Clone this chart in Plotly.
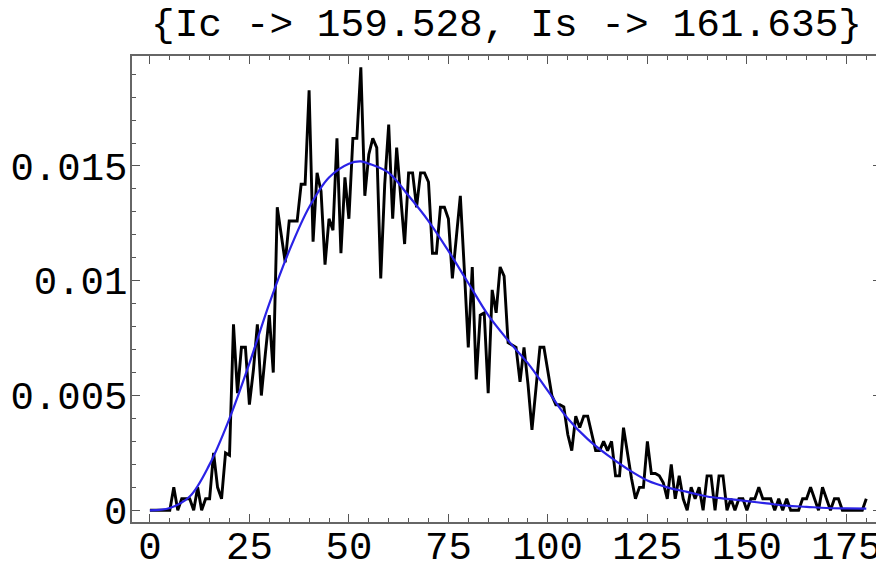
import plotly.graph_objects as go

# Histogram (black jagged line): one value per integer x = 0..180
hist_x = list(range(0, 181))
hist_y = [
    0, 0, 0, 0, 0, 0, 0.0010, 0, 0.0005, 0.0005,
    0.0005, 0, 0.0010, 0, 0.0005, 0.0005, 0.0025, 0.0010, 0.0005, 0.0025,
    0.0024, 0.0081, 0.0051, 0.0071, 0.0071, 0.0046, 0.0061, 0.0081, 0.0050, 0.0068,
    0.0085, 0.0060, 0.0132, 0.0120, 0.0108, 0.0126, 0.0126, 0.0126, 0.0142, 0.0142,
    0.0183, 0.0117, 0.0147, 0.0139, 0.0107, 0.0127, 0.0122, 0.0162, 0.0112, 0.0145,
    0.0127, 0.0162, 0.0162, 0.0193, 0.0137, 0.0155, 0.0162, 0.0158, 0.0101, 0.0142,
    0.0168, 0.0127, 0.0158, 0.0137, 0.0116, 0.0147, 0.0147, 0.0132, 0.0147, 0.0147,
    0.0143, 0.0112, 0.0112, 0.0132, 0.0132, 0.0127, 0.0101, 0.0119, 0.0137, 0.0105,
    0.0071, 0.0106, 0.0057, 0.0085, 0.0086, 0.0051, 0.0096, 0.0086, 0.0106, 0.0102,
    0.0073, 0.0072, 0.0071, 0.0056, 0.0071, 0.0055, 0.0035, 0.0053, 0.0071, 0.0071,
    0.0061, 0.0050, 0.0046, 0.0046, 0.0045, 0.0033, 0.0026, 0.0041, 0.0036, 0.0041,
    0.0041, 0.0033, 0.0026, 0.0026, 0.0030, 0.0026, 0.0030, 0.0015, 0.0015, 0.0036,
    0.0024, 0.0014, 0.0005, 0.0010, 0.0010, 0.0030, 0.0016, 0.0016, 0.0015, 0.0012,
    0.0005, 0.0020, 0.0005, 0.0015, 0.0005, 0, 0.0010, 0.0005, 0.0010, 0,
    0.0015, 0.0015, 0, 0.0015, 0.0015, 0, 0.0005, 0, 0.0005, 0.0005,
    0, 0.0005, 0.0005, 0.0010, 0.0005, 0.0005, 0.0005, 0, 0.0005, 0,
    0.0005, 0, 0, 0, 0.0005, 0.0005, 0.0010, 0.0005, 0, 0.0010,
    0.0005, 0, 0.0005, 0.0005, 0, 0, 0, 0, 0, 0,
    0.0005,
]

# Fitted curve (blue), read at sample points
fit_x = [0, 5, 10, 15, 20, 25, 30, 35, 40, 45, 50, 53, 55, 60, 65, 70, 75, 80, 85, 90,
         95, 100, 105, 110, 115, 120, 125, 130, 135, 140, 145, 150, 155, 160, 165, 170, 175, 180]
fit_y = [0, 0.0001, 0.0006, 0.0020, 0.0040, 0.0064, 0.0090, 0.0113, 0.0132, 0.0145, 0.0151,
         0.0152, 0.0151, 0.0147, 0.0137, 0.0126, 0.0113, 0.0099, 0.0085, 0.0074,
         0.0064, 0.0052, 0.0040, 0.0031, 0.0024, 0.0018, 0.0013, 0.0010, 0.0008, 0.0006,
         0.0005, 0.0004, 0.0003, 0.0002, 0.00015, 0.0001, 0.00008, 0.00007]

x_tickvals = [0, 25, 50, 75, 100, 125, 150, 175]
x_ticktext = ["0", "25", "50", "75", "100", "125", "150", "175"]
y_tickvals = [0, 0.005, 0.01, 0.015]
y_ticktext = ["0", "0.005", "0.01", "0.015"]
title_text = "{Ic -> 159.528, Is -> 161.635}"

FONT = "Liberation Mono, DejaVu Sans Mono, monospace"

fig = go.Figure()
fig.add_trace(go.Scatter(x=hist_x, y=hist_y, mode="lines",
                         line=dict(color="black", width=2.9), showlegend=False))
fig.add_trace(go.Scatter(x=fit_x, y=fit_y, mode="lines",
                         line=dict(color="#2a22e6", width=2.2, shape="spline"),
                         showlegend=False))

axis_common = dict(
    automargin=False,
    showgrid=False, zeroline=False, showline=True, linecolor="#666666", linewidth=1.5,
    mirror="allticks", ticks="inside", tickcolor="#555555", tickwidth=1.2,
    tickfont=dict(family=FONT, size=39, color="black"),
)

fig.update_xaxes(range=[-4.5, 183.7], tickvals=x_tickvals, ticktext=x_ticktext,
                 ticklen=8, ticklabelstandoff=-12,
                 minor=dict(dtick=5, tick0=0, ticks="inside", ticklen=4, tickcolor="#555555"),
                 **axis_common)
fig.update_yaxes(range=[-0.00051, 0.01979], tickvals=y_tickvals, ticktext=y_ticktext,
                 ticklen=8, ticklabelstandoff=-5,
                 minor=dict(dtick=0.001, tick0=0, ticks="inside", ticklen=4, tickcolor="#555555"),
                 **axis_common)

# The page body adds an 8px offset; size/margins compensate for it.
fig.update_layout(
    width=876, height=555,
    margin=dict(l=124, r=3, t=48, b=41, autoexpand=False),
    paper_bgcolor="white", plot_bgcolor="white",
    title=dict(text=title_text, x=0.5, xref="paper", xanchor="center",
               y=1 - 14 / 555, yref="container", yanchor="middle",
               font=dict(family=FONT, size=39.5, color="black")),
)

fig.write_html("out.html")
